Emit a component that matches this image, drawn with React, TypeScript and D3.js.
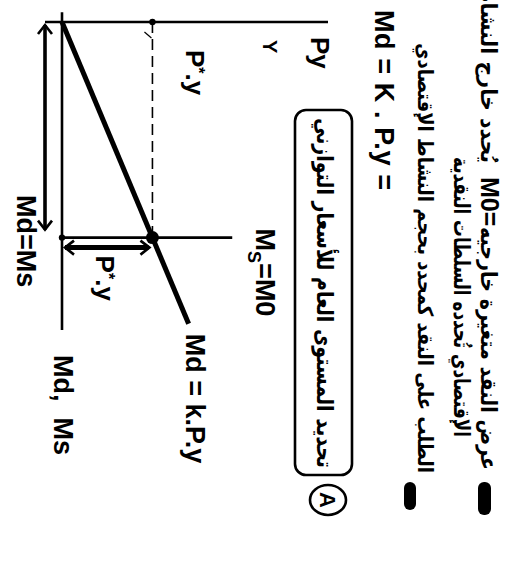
import React from "react";
import * as d3 from "d3";

// Money market equilibrium: Md = k.P.y against an exogenous supply Ms = M0.
const MONEY_MAX = 10;
const PY_MAX = 10;
const M0 = 7;
const PY_STAR = 3.4;
const MD_END = 9.8;
const MS_TOP = 6.4;

const axisLabels = { money: ["Md,", "Ms"], income: "Py", real: "Y" };
const curveLabels = { demand: "Md = k.P.y", equal: "Md=Ms" };

const bulletLines = [
  "عرض النقد متغيرة خارجيه",
  "يُحدد خارج النشاط",
  "الإقتصادي تُحدده السلطات النقدية",
  "الطلب على النقد كمحدد بحجم النشاط الإقتصادي",
];
const equationLine = "Md = K . P.y =";
const boxTitle = "تحديد المستوى العام للأسعار التوازني";
const badge = "A";

const W = 509;
const H = 563;

const latin = "'Liberation Sans', Arial, sans-serif";
const arabic = "'DejaVu Sans', sans-serif";

function Note({
  x,
  y,
  text,
  length,
  size = 21,
}: {
  x: number;
  y: number;
  text: string;
  length: number;
  size?: number;
}) {
  return (
    <text
      x={x}
      y={y}
      fontFamily={arabic}
      fontWeight="bold"
      fontSize={size}
      textAnchor="end"
      textLength={length}
      lengthAdjust="spacingAndGlyphs"
    >
      {text}
    </text>
  );
}

export default function App() {
  // the diagram is laid out upright in a 563 x 509 frame, then turned a quarter turn
  const x = d3.scaleLinear().domain([0, MONEY_MAX]).range([22, 330]);
  const y = d3.scaleLinear().domain([0, PY_MAX]).range([447, 181]);

  const k = M0 / PY_STAR;
  const demand = d3
    .line<number>()
    .x((m) => x(m))
    .y((m) => y(m / k));
  const demandPath = demand([0, MD_END]) || "";

  const ex = x(M0);
  const ey = y(PY_STAR);
  const x0 = x(0);
  const y0 = y(0);

  const arrowU = ex + 10;
  const arrowV = y0 + 17;

  return (
    <svg
      width={W}
      height={H}
      style={{ position: "absolute", left: 0, top: 0, display: "block" }}
    >
      <rect width={W} height={H} fill="#fff" />
      <g transform={`translate(${W},0) rotate(90)`}>
        {/* axes */}
        <line x1={x0} y1={y(PY_MAX)} x2={x0} y2={y0 + 17} stroke="#000" strokeWidth={2.6} />
        <line x1={x(-0.32)} y1={y0} x2={x(MONEY_MAX)} y2={y0} stroke="#000" strokeWidth={2.6} />

        {/* money supply */}
        <line x1={ex} y1={y0} x2={ex} y2={y(MS_TOP)} stroke="#000" strokeWidth={2.6} />

        {/* equilibrium guide */}
        <line
          x1={x0}
          y1={ey}
          x2={ex}
          y2={ey}
          stroke="#000"
          strokeWidth={1.6}
          strokeDasharray="11 6"
        />
        <line x1={x0 + 10} y1={ey + 8} x2={x0 + 16} y2={ey + 1} stroke="#000" strokeWidth={1.2} />

        {/* money demand */}
        <path d={demandPath} stroke="#000" strokeWidth={5} fill="none" />

        {/* points */}
        <circle cx={ex} cy={ey} r={6.5} fill="#000" />
        <circle cx={x0} cy={ey} r={3.2} fill="#000" />
        <circle cx={ex} cy={y0} r={3.2} fill="#000" />

        {/* P*.y double arrow */}
        <line x1={arrowU} y1={ey + 4} x2={arrowU} y2={y0 - 3} stroke="#000" strokeWidth={5} />
        <path
          d={`M${arrowU - 7},${ey + 12} L${arrowU},${ey + 3} L${arrowU + 7},${ey + 12}`}
          stroke="#000"
          strokeWidth={2.6}
          fill="none"
        />
        <path
          d={`M${arrowU - 7},${y0 - 12} L${arrowU},${y0 - 3} L${arrowU + 7},${y0 - 12}`}
          stroke="#000"
          strokeWidth={2.6}
          fill="none"
        />

        {/* Md=Ms double arrow */}
        <line x1={x0 + 3} y1={arrowV} x2={ex - 8} y2={arrowV} stroke="#000" strokeWidth={3.6} />
        <path
          d={`M${x0 + 12},${arrowV - 7} L${x0 + 3},${arrowV} L${x0 + 12},${arrowV + 7}`}
          stroke="#000"
          strokeWidth={2.6}
          fill="none"
        />
        <path
          d={`M${ex - 17},${arrowV - 7} L${ex - 8},${arrowV} L${ex - 17},${arrowV + 7}`}
          stroke="#000"
          strokeWidth={2.6}
          fill="none"
        />

        {/* labels */}
        <g fontFamily={latin} fontWeight="bold" fill="#000">
          <text x={x0 + 15} y={y(PY_MAX) + 17} fontSize={26}>
            {axisLabels.income}
          </text>
          <text x={x0 + 18} y={y(PY_MAX) + 65} fontSize={20}>
            {axisLabels.real}
          </text>
          <text x={x0 + 28} y={ey - 34} fontSize={26}>
            P<tspan fontSize={16} dy={-7}>*</tspan>
            <tspan dy={7}>.y</tspan>
          </text>
          <text x={x(MD_END) + 10} y={ey - 34} fontSize={27}>
            {curveLabels.demand}
          </text>
          <text x={ex - 9} y={y(MS_TOP) - 24} fontSize={27}>
            M<tspan fontSize={18} dy={8}>S</tspan>
            <tspan dy={-8}>=M0</tspan>
          </text>
          <text x={x(MONEY_MAX) + 25} y={y0 + 8} fontSize={27}>
            {axisLabels.money[0]}
            <tspan dx={16}>{axisLabels.money[1]}</tspan>
          </text>
          <text x={ex + 18} y={y0 - 34} fontSize={26}>
            P<tspan fontSize={16} dy={-7}>*</tspan>
            <tspan dy={7}>.y</tspan>
          </text>
          <text x={x0 + 173} y={y0 + 45} fontSize={27}>
            {curveLabels.equal}
          </text>
        </g>

        {/* notes */}
        <g fill="#000">
          <rect x={482} y={18} width={33} height={13} rx={6} />
          <rect x={482} y={93} width={28} height={12} rx={6} />
          <Note x={470} y={28} text={bulletLines[0]} length={243} size={22} />
          <text x={177} y={28} fontFamily={latin} fontWeight="bold" fontSize={25}>
            M0=
          </text>
          <Note x={163} y={28} text={bulletLines[1]} length={182} size={22} />
          <Note x={437} y={55} text={bulletLines[2]} length={280} size={22} />
          <Note x={473} y={91} text={bulletLines[3]} length={430} />
          <text
            x={10}
            y={134}
            fontFamily={latin}
            fontWeight="bold"
            fontSize={27}
            textLength={180}
            lengthAdjust="spacing"
          >
            {equationLine}
          </text>
        </g>

        {/* framed heading */}
        <rect x={110} y={157} width={365} height={57} rx={11} fill="none" stroke="#000" strokeWidth={2.6} />
        <text
          x={468}
          y={192}
          fontFamily={arabic}
          fontWeight="bold"
          fontSize={23}
          textAnchor="end"
          textLength={350}
          lengthAdjust="spacingAndGlyphs"
        >
          {boxTitle}
        </text>
        <ellipse cx={500} cy={181} rx={15} ry={18} fill="none" stroke="#000" strokeWidth={2.6} />
        <text
          x={500}
          y={189}
          fontFamily={latin}
          fontWeight="bold"
          fontSize={22}
          textAnchor="middle"
        >
          {badge}
        </text>
      </g>
    </svg>
  );
}
